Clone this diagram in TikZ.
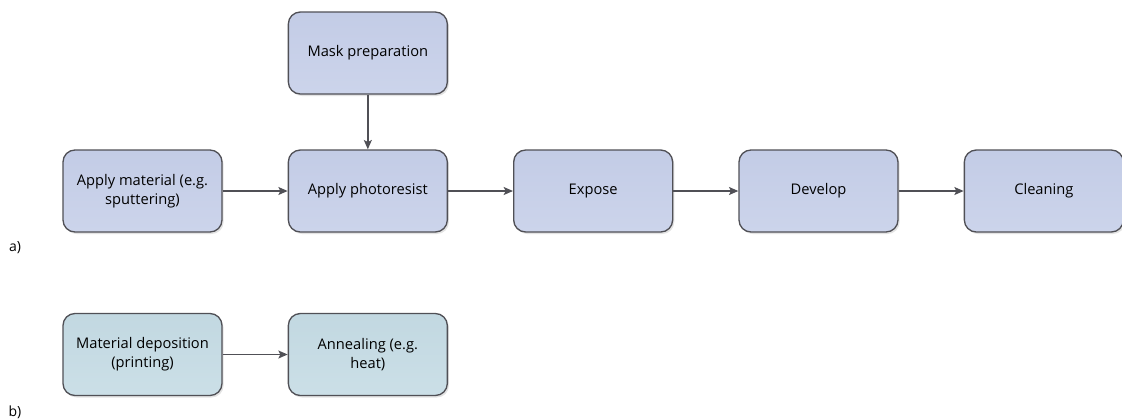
\documentclass[tikz,border=0pt]{standalone}
\usepackage{fontspec}
\setmainfont{Open Sans}
\usetikzlibrary{shapes.geometric, arrows, arrows.meta, positioning, shadows}

\definecolor{procblue}{RGB}{195,204,230}
\definecolor{procblueb}{RGB}{204,212,235}
\definecolor{procteal}{RGB}{194,216,225}
\definecolor{proctealb}{RGB}{203,223,231}
\definecolor{edgegray}{RGB}{80,80,86}

\begin{document}
\begin{tikzpicture}[x=0.75pt, y=-0.75pt, node distance=48.75pt, auto]
    \tikzstyle{litho}   = [rectangle, rounded corners=9pt, minimum width=119.25pt, minimum height=61.5pt, text centered, align=center, draw=edgegray, line width=1pt, top color=procblue, bottom color=procblueb, drop shadow={shadow xshift=1.2pt, shadow yshift=-1.5pt, fill=black!22}, font=\fontsize{11}{14}\selectfont]
    \tikzstyle{printed} = [litho, top color=procteal, bottom color=proctealb]
    \tikzstyle{tag}     = [font=\fontsize{10.5}{14}\selectfont, inner sep=0pt]
    \tikzstyle{arrow}   = [draw=edgegray, line width=1pt, -{Stealth[length=7pt, width=6pt, inset=1.5pt]}]

    \useasboundingbox (0,0) rectangle (1122,419);

    % Lithography route
    \node [litho] (material) at (142.5,191) {Apply material (e.g.\\sputtering)};
    \node [litho, right=of material]    (photoresist) {Apply photoresist};
    \node [litho, above=41pt of photoresist] (mask) {Mask preparation};
    \node [litho, right=of photoresist] (expose)   {Expose};
    \node [litho, right=of expose]      (develop)  {Develop};
    \node [litho, right=of develop]     (cleaning) {Cleaning};

    % Printing route
    \node [printed] (deposition) at (142.5,354.5) {Material deposition\\(printing)};
    \node [printed, right=of deposition] (annealing) {Annealing (e.g.\\heat)};

    % Labels
    \node [tag] (taga) at (15,248) {a)};
    \node [tag] (tagb) at (15,412) {b)};

    % Arrows
    \draw [arrow] (mask)        -- (photoresist);
    \draw [arrow] (material)    -- (photoresist);
    \draw [arrow] (photoresist) -- (expose);
    \draw [arrow] (expose)      -- (develop);
    \draw [arrow] (develop)     -- (cleaning);
    \draw [arrow] (deposition)  -- (annealing);

\end{tikzpicture}
\end{document}
